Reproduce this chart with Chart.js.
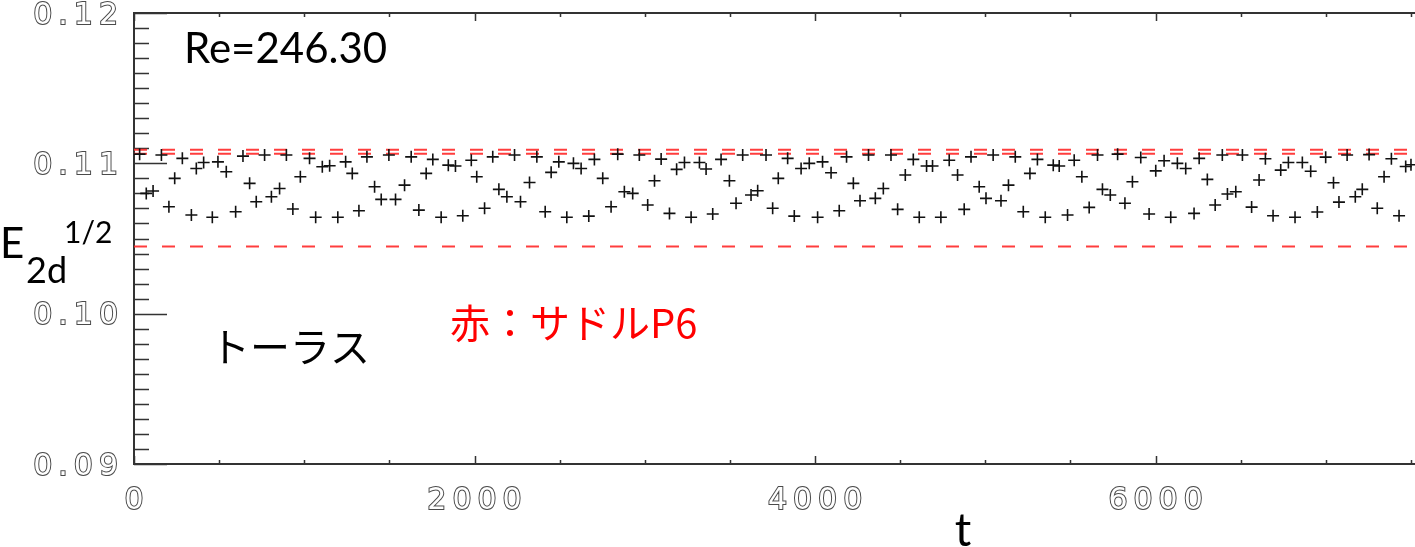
<!DOCTYPE html>
<html>
<head>
<meta charset="utf-8">
<script src="https://cdn.jsdelivr.net/npm/chart.js@4.4.0/dist/chart.umd.min.js"></script>
<style>
html, body { margin: 0; padding: 0; background: #fff; overflow: hidden; width: 1415px; height: 547px; }
#wrap { position: relative; width: 1430px; height: 547px; }
</style>
</head>
<body>
<div id="wrap"><canvas id="c" width="1430" height="547"></canvas></div>
<script>
// time samples (t) and E_2d^1/2 on the torus
var tValues = [
  33, 72, 112, 161, 205, 239, 284, 337, 366, 409,
  460, 493, 542, 597, 640, 679, 718, 767, 807, 855,
  895, 933, 977, 1031, 1067, 1106, 1149, 1197, 1243, 1282,
  1321, 1368, 1413, 1452, 1497, 1536, 1589, 1628, 1673, 1716,
  1755, 1804, 1846, 1888, 1931,
  1981, 2013, 2059, 2107, 2143, 2190, 2235, 2270, 2323, 2366,
  2415, 2450, 2495, 2542, 2581, 2626, 2671, 2704, 2753, 2802,
  2841, 2880, 2929, 2968, 3017, 3057, 3096, 3145, 3187, 3233,
  3272, 3321, 3360, 3399, 3448, 3497, 3536, 3575, 3624, 3663,
  3712, 3751, 3784,
  3839, 3878, 3918, 3966, 4015, 4044, 4094, 4142, 4185, 4225,
  4264, 4314, 4354, 4401, 4446, 4485, 4530, 4577, 4612, 4655,
  4690, 4739, 4788, 4837, 4876, 4916, 4964, 5004, 5046, 5092,
  5136, 5176, 5223, 5262, 5306, 5352, 5399, 5434, 5483, 5522,
  5567, 5610,
  5659, 5688, 5734, 5777, 5820, 5864, 5913, 5962, 6001, 6050,
  6089, 6128, 6177, 6226, 6256, 6304, 6350, 6392, 6422, 6471,
  6510, 6564, 6608, 6645, 6690, 6735, 6780, 6819, 6862, 6911,
  6950, 6999, 7045, 7077, 7125, 7173, 7214, 7254, 7302, 7342,
  7385, 7430, 7469, 7500
];
var eValues = [
  0.11061, 0.10800, 0.10816, 0.11055, 0.10711, 0.10900, 0.11033, 0.10656, 0.10966, 0.11006,
  0.10641, 0.11010, 0.10944, 0.10678, 0.11048, 0.10867, 0.10744, 0.11055, 0.10778, 0.10833,
  0.11055, 0.10696, 0.10911, 0.11033, 0.10641, 0.10977, 0.10984, 0.10641, 0.11010, 0.10933,
  0.10685, 0.11043, 0.10844, 0.10760, 0.11055, 0.10760, 0.10855, 0.11043, 0.10689, 0.10933,
  0.11026, 0.10641, 0.10988, 0.10982, 0.10651,
  0.11021, 0.10911, 0.10701, 0.11043, 0.10827, 0.10778, 0.11055, 0.10744, 0.10873, 0.11043,
  0.10678, 0.10940, 0.11010, 0.10641, 0.11000, 0.10966, 0.10649, 0.11026, 0.10900, 0.10711,
  0.11061, 0.10811, 0.10800, 0.11055, 0.10723, 0.10884, 0.11028, 0.10667, 0.10960, 0.11006,
  0.10641, 0.11006, 0.10962, 0.10663, 0.11026, 0.10884, 0.10734, 0.11055, 0.10789, 0.10818,
  0.11055, 0.10701, 0.10900,
  0.11033, 0.10649, 0.10966, 0.11000, 0.10641, 0.11010, 0.10937, 0.10685, 0.11043, 0.10867,
  0.10751, 0.11055, 0.10767, 0.10833, 0.11055, 0.10694, 0.10922, 0.11026, 0.10641, 0.10982,
  0.10982, 0.10641, 0.11021, 0.10922, 0.10694, 0.11043, 0.10844, 0.10767, 0.11055, 0.10751,
  0.10855, 0.11043, 0.10678, 0.10933, 0.11026, 0.10641, 0.10988, 0.10982, 0.10656, 0.11021,
  0.10911, 0.10707,
  0.11055, 0.10827, 0.10789, 0.11061, 0.10734, 0.10877, 0.11039, 0.10663, 0.10950, 0.11017,
  0.10641, 0.11000, 0.10966, 0.10667, 0.11033, 0.10893, 0.10723, 0.11055, 0.10796, 0.10811,
  0.11055, 0.10709, 0.10889, 0.11030, 0.10651, 0.10955, 0.11006, 0.10641, 0.11006, 0.10947,
  0.10676, 0.11041, 0.10871, 0.10742, 0.11055, 0.10778, 0.10827, 0.11058, 0.10701, 0.10911,
  0.11030, 0.10651, 0.10979, 0.10991
];
// saddle P6 levels (red dashed)
var saddleLevels = [0.11090, 0.11063, 0.10446];

var xTicks = [0, 2000, 4000, 6000];
var yTicks = [0.09, 0.10, 0.11, 0.12];
var xMax = 7553;

var pts = tValues.map(function (t, i) { return { x: t, y: eValues[i] }; });

var datasets = [{
  type: 'scatter',
  data: pts,
  pointStyle: 'cross',
  pointRadius: 6,
  pointBorderWidth: 1.6,
  pointBorderColor: '#111',
  pointBackgroundColor: '#111'
}];
saddleLevels.forEach(function (lv) {
  datasets.push({
    type: 'line',
    data: [{ x: 0, y: lv }, { x: xMax, y: lv }],
    borderColor: 'rgba(255,40,40,0.9)',
    borderWidth: 2,
    borderDash: [13, 15],
    pointRadius: 0
  });
});

function noPad(s) {
  s.paddingTop = 0;
  s.paddingBottom = 0;
  s.paddingLeft = 0;
  s.paddingRight = 0;
}

// box, inward ticks and the free text labels
var frame = {
  id: 'frame',
  beforeDraw: function (chart) {
    chart.ctx.letterSpacing = '6px';
  },
  beforeDatasetsDraw: function (chart) {
    var ctx = chart.ctx, a = chart.chartArea, x = chart.scales.x, y = chart.scales.y;
    ctx.letterSpacing = '0px';
    ctx.save();
    ctx.strokeStyle = '#333';
    ctx.lineWidth = 2;
    ctx.strokeRect(a.left, a.top, a.right - a.left, a.bottom - a.top);
    ctx.lineWidth = 1.5;
    ctx.beginPath();
    for (var k = 90; k <= 120; k++) {
      var py = Math.round(y.getPixelForValue(k / 1000)) + 0.5;
      var len = k % 10 === 0 ? 33 : 15;
      ctx.moveTo(a.left, py);
      ctx.lineTo(a.left + len, py);
    }
    for (var j = 0; j * 500 <= xMax; j++) {
      var px = Math.round(x.getPixelForValue(j * 500)) + 0.5;
      var l2 = j % 4 === 0 ? 8 : 4;
      ctx.moveTo(px, a.bottom);
      ctx.lineTo(px, a.bottom - l2);
      ctx.moveTo(px, a.top);
      ctx.lineTo(px, a.top + l2);
    }
    ctx.stroke();
    ctx.restore();
  },
  afterDraw: function (chart) {
    var ctx = chart.ctx;
    ctx.save();
    ctx.fillStyle = '#000';
    ctx.textBaseline = 'alphabetic';
    ctx.font = '42px Lato';
    ctx.fillText('Re=246.30', 184, 63);
    // y title E_2d^1/2
    ctx.fillText('E', 0, 258);
    ctx.font = '36px Lato';
    ctx.fillText('2d', 26, 283);
    ctx.font = '30px Lato';
    ctx.fillText('1/2', 64, 243);
    ctx.font = '46px Lato';
    ctx.textAlign = 'center';
    ctx.fillText('t', 963, 546);
    ctx.textAlign = 'left';
    ctx.textBaseline = 'middle';
    ctx.font = '40px "Noto Sans CJK JP"';
    ctx.fillText('トーラス', 210, 347);
    ctx.fillStyle = '#ff0000';
    ctx.fillText('赤：サドルP6', 450, 323);
    ctx.restore();
  }
};

var tickFont = { family: 'DejaVu Sans', size: 30 };

new Chart(document.getElementById('c'), {
  type: 'scatter',
  data: { datasets: datasets },
  options: {
    responsive: false,
    animation: false,
    layout: { padding: { top: 13, left: 0, right: 10, bottom: 0 } },
    plugins: { legend: { display: false }, tooltip: { enabled: false } },
    scales: {
      x: {
        type: 'linear',
        min: 0,
        max: xMax,
        afterFit: function (s) { noPad(s); s.height = 83; },
        afterBuildTicks: function (s) { s.ticks = xTicks.map(function (v) { return { value: v }; }); },
        grid: { display: false, drawTicks: false },
        border: { display: false },
        ticks: {
          font: tickFont,
          color: '#fff',
          textStrokeColor: '#4a4a4a',
          textStrokeWidth: 2,
          padding: 19,
          labelOffset: 3,
          maxRotation: 0,
          autoSkip: false,
          callback: function (v) { return String(v); }
        }
      },
      y: {
        type: 'linear',
        min: 0.09,
        max: 0.12,
        afterFit: function (s) { noPad(s); s.width = 134; },
        afterBuildTicks: function (s) { s.ticks = yTicks.map(function (v) { return { value: v }; }); },
        grid: { display: false, drawTicks: false },
        border: { display: false },
        ticks: {
          font: tickFont,
          color: '#fff',
          textStrokeColor: '#4a4a4a',
          textStrokeWidth: 2,
          padding: 10,
          labelOffset: 3,
          autoSkip: false,
          callback: function (v) { return v.toFixed(2); }
        }
      }
    }
  },
  plugins: [frame]
});
</script>
</body>
</html>
